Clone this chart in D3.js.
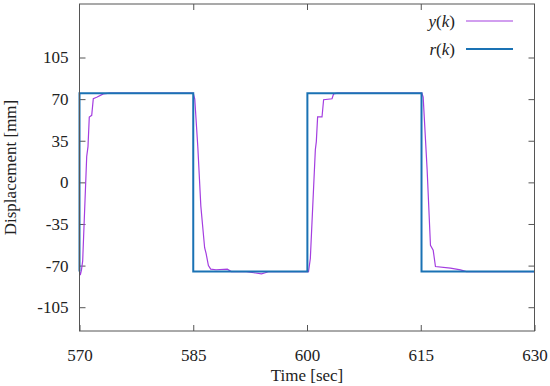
<!DOCTYPE html>
<html>
<head>
<meta charset="utf-8">
<script src="https://cdn.jsdelivr.net/npm/d3@7"></script>
<style>
  body { margin: 0; background: #fff; }
  svg text { font-family: "Liberation Serif"; }
</style>
</head>
<body>
<div id="chart"></div>
<script>
var FONT = "Liberation Serif";

// reference square wave r(k)
var refTime = [570, 570, 585, 585, 600.05, 600.05, 615.1, 615.1, 630];
var refValue = [-75, 75, 75, -75, -75, 75, 75, -75, -75];

// measured response y(k)
var outTime = [570, 570.1, 570.25, 570.42, 570.95, 571.12, 571.29, 571.61, 571.82, 572.27, 573.14, 574,
  585.0, 585.2, 585.6, 586.0, 586.5, 586.7, 587.0, 587.3, 588, 589.5, 590, 592, 593, 594, 594.5, 595,
  600.2, 600.44, 601.1, 601.23, 601.4, 601.98, 602.19, 603.3, 603.51, 604,
  615.15, 615.32, 615.84, 616.28, 616.64, 616.94, 618.92, 620.24, 621, 630];
var outValue = [-75, -78, -74, -66, 21.8, 30, 55, 56.4, 70.3, 71.6, 74.4, 75,
  75, 70, 30, -20, -55, -60, -70, -73, -73.5, -73, -75, -75, -76, -77, -76, -75,
  -75, -64, 27.4, 34.3, 55, 55, 69.5, 70.3, 74.4, 75,
  75, 71.6, 10.8, -52.9, -57, -70.8, -72.2, -73.6, -75, -75];

var xTicks = [570, 585, 600, 615, 630];
var yTicks = [-105, -70, -35, 0, 35, 70, 105];

var margin = {top: 4, right: 15.5, bottom: 55, left: 79.5},
    width = 550 - margin.left - margin.right,
    height = 386 - margin.top - margin.bottom;

var svg = d3.select("#chart").append("svg")
    .attr("width", 550)
    .attr("height", 386)
    .attr("font-family", FONT)
  .append("g")
    .attr("transform", "translate(" + margin.left + "," + margin.top + ")");

var x = d3.scaleLinear().domain([570, 630]).range([0, width]);
var y = d3.scaleLinear().domain([-125, 150]).range([height, 0]);

// axes with inward ticks, mirrored on top and right
function styleAxis(g) {
  g.attr("font-family", FONT).attr("font-size", 17);
  g.select(".domain").remove();
  g.selectAll(".tick line").attr("stroke", "#555").attr("stroke-width", 1);
  g.selectAll(".tick text")
      .attr("fill", "#222")
      .attr("font-family", FONT)
      .attr("font-size", 17);
}

svg.append("g")
    .attr("transform", "translate(0," + height + ")")
    .call(d3.axisBottom(x).tickValues(xTicks).tickSize(-6).tickPadding(18))
    .call(styleAxis);

svg.append("g")
    .call(d3.axisTop(x).tickValues(xTicks.slice(1, -1)).tickSize(-6).tickFormat(""))
    .call(styleAxis);

svg.append("g")
    .call(d3.axisLeft(y).tickValues(yTicks).tickSize(-6).tickPadding(11)
      .tickFormat(function(d) { return String(d); }))
    .call(styleAxis);

svg.append("g")
    .attr("transform", "translate(" + width + ",0)")
    .call(d3.axisRight(y).tickValues(yTicks).tickSize(-6).tickFormat(""))
    .call(styleAxis);

var line = d3.line()
    .x(function(d) { return x(d[0]); })
    .y(function(d) { return y(d[1]); });

svg.append("path")
    .datum(d3.zip(outTime, outValue))
    .attr("fill", "none")
    .attr("stroke", "#a43ee0")
    .attr("stroke-width", 1.2)
    .attr("d", line);

svg.append("path")
    .datum(d3.zip(refTime, refValue))
    .attr("fill", "none")
    .attr("stroke", "#1a72b4")
    .attr("stroke-width", 2)
    .attr("d", line);

// frame
svg.append("rect")
    .attr("width", width)
    .attr("height", height)
    .attr("fill", "none")
    .attr("stroke", "#555")
    .attr("stroke-width", 1);

// axis titles
svg.append("text")
    .attr("x", width / 2)
    .attr("y", height + 50)
    .attr("text-anchor", "middle")
    .attr("font-family", FONT)
    .attr("font-size", 17)
    .attr("fill", "#222")
    .text("Time [sec]");

svg.append("text")
    .attr("transform", "translate(" + (15.5 - margin.left) + "," + (height / 2) + ") rotate(-90)")
    .attr("text-anchor", "middle")
    .attr("font-family", FONT)
    .attr("font-size", 17)
    .attr("fill", "#222")
    .text("Displacement [mm]");

// legend
var legend = [
  {fn: "y", color: "#a43ee0", w: 1.2},
  {fn: "r", color: "#1a72b4", w: 2}
];
legend.forEach(function(d, i) {
  var ly = 21 + i * 28 - margin.top;
  var t = svg.append("text")
      .attr("x", 455 - margin.left)
      .attr("y", ly + 5.5)
      .attr("text-anchor", "end")
      .attr("font-family", FONT)
      .attr("font-size", 17)
      .attr("fill", "#222");
  t.append("tspan").attr("font-style", "italic").text(d.fn);
  t.append("tspan").text("(");
  t.append("tspan").attr("font-style", "italic").text("k");
  t.append("tspan").text(")");
  svg.append("line")
      .attr("x1", 466 - margin.left)
      .attr("x2", 513 - margin.left)
      .attr("y1", ly)
      .attr("y2", ly)
      .attr("stroke", d.color)
      .attr("stroke-width", d.w);
});
</script>
</body>
</html>
